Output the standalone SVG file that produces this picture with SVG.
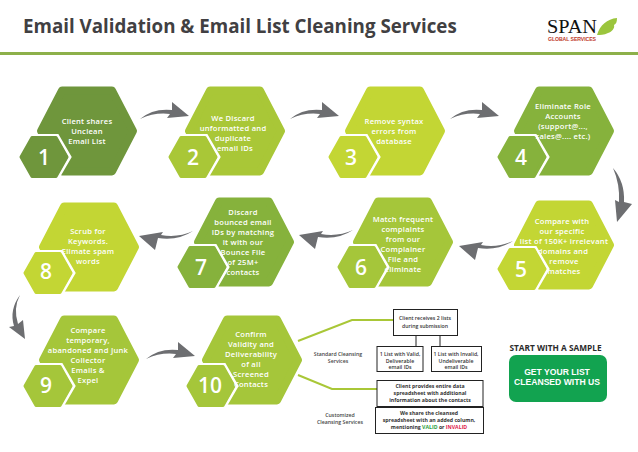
<svg xmlns="http://www.w3.org/2000/svg" xmlns:xlink="http://www.w3.org/1999/xlink" width="638" height="452" viewBox="0 0 638 452">
<style>
text{font-family:"Open Sans","Noto Sans","Liberation Sans",sans-serif}
.big{stroke-width:8;stroke-linejoin:round}
.small{stroke-width:3;stroke-linejoin:round}
.c1{fill:#6f963c;stroke:#6f963c}
.c2{fill:#a9c737;stroke:#a9c737}
.c3{fill:#c3d634;stroke:#c3d634}
.c4{fill:#86b23c;stroke:#86b23c}
.c5{fill:#a5c63a;stroke:#a5c63a}
.t{font-size:7.6px;font-weight:600;fill:#fff;text-anchor:middle;letter-spacing:.25px}
.n{font-size:21px;font-weight:600;fill:#fff;text-anchor:middle}
.ar{fill:#6d6e71}
.gl{fill:none;stroke:#a9c737;stroke-width:2}
.bx{fill:#fff;stroke:#222;stroke-width:1}
.bt{font-size:5.2px;font-weight:600;fill:#333;text-anchor:middle}
.bl{font-size:5.2px;font-weight:600;fill:#444;text-anchor:middle}
</style>
<defs>
<polygon id="hb" points="-25,-40.5 25,-40.5 46,0 25,40.5 -25,40.5 -46,0"/>
<path id="hs" d="M-23 0L-12 -19.5H12L23 0L12 19.5H-12Z"/>
<path id="hw" d="M-12 -21.5H13.5L26 0L13.5 21.5"/>
<path id="arr" d="M140 119Q153 108 172 110L172 102L189 116L167 118L170 114Q155 112 140 119Z"/>
<path id="arl" d="M193 231Q178 241 158 238L155 250L139 236L163 232L161 235Q178 238 193 231Z"/>
</defs>
<rect width="638" height="452" fill="#fff"/>
<text x="23" y="33" font-size="18.750" font-weight="700" fill="#414042">Email Validation &amp; Email List Cleaning Services</text>
<rect x="0" y="52" width="638" height="3" fill="#8db04a"/>
<g id="logo">
<text x="547" y="33" font-size="19" fill="#111" textLength="50" lengthAdjust="spacingAndGlyphs" style="font-family:'Liberation Serif',serif">SPAN</text>
<path d="M597 35C600 25 607 19 617 18C617 22 616 24 614 25C615 28 612 32 608 33C604 35 600 35 597 35Z" fill="#9bc53d"/>
<text x="548" y="41" font-size="5.2" font-weight="600" fill="#c0392b" textLength="48" style="font-family:'Liberation Sans',sans-serif">GLOBAL SERVICES</text>
</g>
<g id="connectors">
<use xlink:href="#arr" href="#arr" class="ar"/>
<use xlink:href="#arr" href="#arr" class="ar" x="150"/>
<use xlink:href="#arr" href="#arr" class="ar" x="310"/>
<use xlink:href="#arr" href="#arr" class="ar" x="6" y="240"/>
<use xlink:href="#arl" href="#arl" class="ar"/>
<use xlink:href="#arl" href="#arl" class="ar" x="160" y="-1"/>
<use xlink:href="#arl" href="#arl" class="ar" x="320" y="10"/>
<path class="ar" d="M613 168Q625 182 624 202L632 204L617 222L615 200L619 202Q620 184 613 168Z"/>
<path class="ar" d="M20 295Q13 308 18 324L23 320L25 339L9 327L14 326Q9 310 20 295Z"/>
<polyline class="gl" points="298,341 352,320 393,320"/>
<polyline class="gl" points="298,375 332,389 377,389"/>
<path d="M416 335V346M440 335V346" stroke="#222" fill="none"/>
</g>
<g id="node-1"><use xlink:href="#hb" href="#hb" class="big c1" x="87" y="131"/><use xlink:href="#hw" href="#hw" x="44" y="157" fill="none" stroke="#fff" stroke-width="3"/><use xlink:href="#hs" href="#hs" class="small c1" x="44" y="157"/><text class="n" x="44" y="165">1</text><text class="t"><tspan x="87" y="124">Client shares</tspan><tspan x="87" y="134">Unclean</tspan><tspan x="87" y="144">Email List</tspan></text></g>
<g id="node-2"><use xlink:href="#hb" href="#hb" class="big c2" x="235" y="131"/><use xlink:href="#hw" href="#hw" x="193" y="157" fill="none" stroke="#fff" stroke-width="3"/><use xlink:href="#hs" href="#hs" class="small c2" x="193" y="157"/><text class="n" x="193" y="165">2</text><text class="t"><tspan x="233" y="121">We Discard</tspan><tspan x="233" y="131">unformatted and</tspan><tspan x="233" y="141">duplicate</tspan><tspan x="235" y="151">email IDs</tspan></text></g>
<g id="node-3"><use xlink:href="#hb" href="#hb" class="big c3" x="395" y="131"/><use xlink:href="#hw" href="#hw" x="353" y="157" fill="none" stroke="#fff" stroke-width="3"/><use xlink:href="#hs" href="#hs" class="small c3" x="353" y="157"/><text class="n" x="351" y="165">3</text><text class="t"><tspan x="394" y="124">Remove syntax</tspan><tspan x="394" y="134">errors from</tspan><tspan x="394" y="144">database</tspan></text></g>
<g id="node-4"><use xlink:href="#hb" href="#hb" class="big c4" x="564" y="131"/><use xlink:href="#hw" href="#hw" x="522" y="157" fill="none" stroke="#fff" stroke-width="3"/><use xlink:href="#hs" href="#hs" class="small c4" x="522" y="157"/><text class="n" x="521" y="165">4</text><text class="t"><tspan x="563" y="109">Eliminate Role</tspan><tspan x="563" y="119">Accounts</tspan><tspan x="563" y="129">(support@...,</tspan><tspan x="563" y="139">sales@.... etc.)</tspan></text></g>
<g id="node-5"><use xlink:href="#hb" href="#hb" class="big c3" x="564" y="245"/><use xlink:href="#hw" href="#hw" x="522" y="269" fill="none" stroke="#fff" stroke-width="3"/><use xlink:href="#hs" href="#hs" class="small c3" x="522" y="269"/><text class="n" x="521" y="277">5</text><text class="t"><tspan x="562" y="224">Compare with</tspan><tspan x="562" y="234">our specific</tspan><tspan x="564" y="244">list of 150K+ irrelevant</tspan><tspan x="563" y="254">domains and</tspan><tspan x="564" y="264">remove</tspan><tspan x="564" y="274">matches</tspan></text></g>
<g id="node-6"><use xlink:href="#hb" href="#hb" class="big c5" x="403" y="242"/><use xlink:href="#hw" href="#hw" x="362" y="267" fill="none" stroke="#fff" stroke-width="3"/><use xlink:href="#hs" href="#hs" class="small c5" x="362" y="267"/><text class="n" x="361" y="275">6</text><text class="t"><tspan x="403" y="222">Match frequent</tspan><tspan x="403" y="232">complaints</tspan><tspan x="403" y="242">from our</tspan><tspan x="403" y="252">Complainer</tspan><tspan x="403" y="262">File and</tspan><tspan x="403" y="272">eliminate</tspan></text></g>
<g id="node-7"><use xlink:href="#hb" href="#hb" class="big c4" x="244" y="242"/><use xlink:href="#hw" href="#hw" x="202" y="267" fill="none" stroke="#fff" stroke-width="3"/><use xlink:href="#hs" href="#hs" class="small c4" x="202" y="267"/><text class="n" x="201" y="275">7</text><text class="t"><tspan x="243" y="215">Discard</tspan><tspan x="243" y="225">bounced email</tspan><tspan x="243" y="235">IDs by matching</tspan><tspan x="243" y="245">it with our</tspan><tspan x="243" y="255">Bounce File</tspan><tspan x="243" y="265">of 25M+</tspan><tspan x="243" y="275">contacts</tspan></text></g>
<g id="node-8"><use xlink:href="#hb" href="#hb" class="big c3" x="89" y="247"/><use xlink:href="#hw" href="#hw" x="48" y="273" fill="none" stroke="#fff" stroke-width="3"/><use xlink:href="#hs" href="#hs" class="small c3" x="48" y="273"/><text class="n" x="46" y="279">8</text><text class="t"><tspan x="88" y="234">Scrub for</tspan><tspan x="88" y="244">Keywords.</tspan><tspan x="88" y="254">Elimate spam</tspan><tspan x="88" y="264">words</tspan></text></g>
<g id="node-9"><use xlink:href="#hb" href="#hb" class="big c5" x="89" y="360"/><use xlink:href="#hw" href="#hw" x="48" y="386" fill="none" stroke="#fff" stroke-width="3"/><use xlink:href="#hs" href="#hs" class="small c5" x="48" y="386"/><text class="n" x="46" y="393">9</text><text class="t"><tspan x="88" y="333">Compare</tspan><tspan x="88" y="343">temporary,</tspan><tspan x="88" y="353">abandoned and Junk</tspan><tspan x="88" y="363">Collector</tspan><tspan x="88" y="373">Emails &amp;</tspan><tspan x="88" y="383">Expel</tspan></text></g>
<g id="node-10"><use xlink:href="#hb" href="#hb" class="big c5" x="252" y="360"/><use xlink:href="#hw" href="#hw" x="211" y="386" fill="none" stroke="#fff" stroke-width="3"/><use xlink:href="#hs" href="#hs" class="small c5" x="211" y="386"/><text class="n" x="210" y="393">10</text><text class="t"><tspan x="251" y="337">Confirm</tspan><tspan x="251" y="347">Validity and</tspan><tspan x="251" y="357">Deliverability</tspan><tspan x="251" y="367">of all</tspan><tspan x="251" y="377">Screened</tspan><tspan x="251" y="387">Contacts</tspan></text></g>
<g id="box-a"><rect class="bx" x="393.500" y="309.500" width="64" height="26"/><text class="bt"><tspan x="425" y="320">Client receives 2 lists</tspan><tspan x="425" y="328">during submission</tspan></text></g>
<g id="box-b"><rect class="bx" x="377" y="346.500" width="46" height="25"/><text class="bt"><tspan x="400" y="356">1 List with Valid,</tspan><tspan x="400" y="362.500">Deliverable</tspan><tspan x="400" y="369">email IDs</tspan></text></g>
<g id="box-c"><rect class="bx" x="431.500" y="346.500" width="50" height="25"/><text class="bt"><tspan x="456" y="356">1 List with Invalid,</tspan><tspan x="456" y="362.500">Undeliverable</tspan><tspan x="456" y="369">email IDs</tspan></text></g>
<g id="box-d"><rect class="bx" x="377" y="380.500" width="106" height="26"/><text class="bt" style="font-weight:700"><tspan x="430" y="388">Client provides entire data</tspan><tspan x="430" y="395">spreadsheet with additional</tspan><tspan x="430" y="402">information about the contacts</tspan></text></g>
<g id="box-e"><rect class="bx" x="375.500" y="407.500" width="108" height="26"/><text class="bt" style="font-weight:700"><tspan x="429" y="415">We share the cleansed</tspan><tspan x="429" y="422">spreadsheet with an added column,</tspan><tspan x="429" y="429">mentioning <tspan fill="#2e9e44">VALID</tspan> or <tspan fill="#e0234e">INVALID</tspan></tspan></text></g>
<g id="label-standard"><text class="bl"><tspan x="338" y="356">Standard Cleansing</tspan><tspan x="338" y="362.500">Services</tspan></text></g>
<g id="label-custom"><text class="bl"><tspan x="340" y="417">Customized</tspan><tspan x="340" y="424">Cleansing Services</tspan></text></g>
<g id="cta">
<text x="555.500" y="351" font-size="8.300" font-weight="700" fill="#2b2b2b" text-anchor="middle">START WITH A SAMPLE</text>
<rect x="509" y="355" width="98" height="47" rx="7" fill="#12a350"/>
<text font-size="8.600" font-weight="700" fill="#fff" text-anchor="middle" style="font-family:'Liberation Sans',sans-serif"><tspan x="557" y="375">GET YOUR LIST</tspan><tspan x="557" y="385">CLEANSED WITH US</tspan></text>
</g>
</svg>
